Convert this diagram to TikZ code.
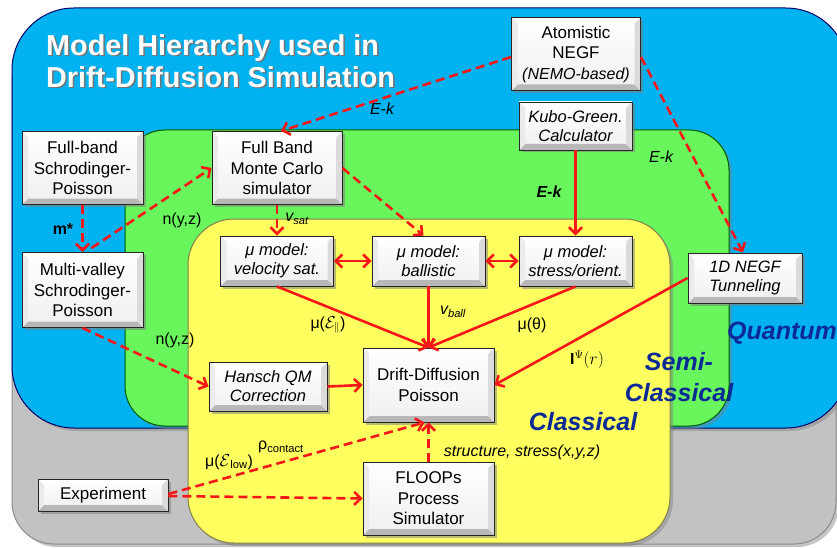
\documentclass[tikz,border=0pt]{standalone}
\usepackage{fontspec}
\setmainfont{Liberation Sans}
\usetikzlibrary{arrows.meta,shadows}

\definecolor{quantumblue}{RGB}{0,178,240}
\definecolor{semigreen}{RGB}{104,246,92}
\definecolor{classyellow}{RGB}{255,255,96}
\definecolor{panelgray}{RGB}{194,194,194}
\definecolor{linkred}{RGB}{246,24,24}
\definecolor{labelblue}{RGB}{12,42,150}

\newcommand\boxfont{\fontsize{17}{20.5}\selectfont}
\newcommand\itboxfont{\itshape\fontsize{16.5}{19}\selectfont}
\newcommand\lblfont{\fontsize{16}{18}\selectfont}

\tikzset{
  x=1pt, y=-1pt,
  region/.style={line width=1pt, rounded corners=#1,
    drop shadow={shadow xshift=3pt, shadow yshift=-3pt, opacity=0.45}},
  box/.style={draw=black!85, line width=0.9pt, align=center, inner sep=2pt,
    top color=white, bottom color=black!6,
    drop shadow={shadow xshift=2.5pt, shadow yshift=-2.5pt, opacity=0.55},
    path picture={
      \fill[black!28] (path picture bounding box.south west) -- (path picture bounding box.south east)
        -- ([shift={(-6pt,6pt)}]path picture bounding box.south east)
        -- ([shift={(6pt,6pt)}]path picture bounding box.south west) -- cycle;
      \fill[black!14] (path picture bounding box.north east) -- (path picture bounding box.south east)
        -- ([shift={(-6pt,6pt)}]path picture bounding box.south east)
        -- ([shift={(-6pt,-6pt)}]path picture bounding box.north east) -- cycle;
      \fill[black!8] (path picture bounding box.north west) -- (path picture bounding box.south west)
        -- ([shift={(6pt,6pt)}]path picture bounding box.south west)
        -- ([shift={(6pt,-6pt)}]path picture bounding box.north west) -- cycle;
    }},
  rmbox/.style={box, font=\boxfont},
  itbox/.style={box, font=\itboxfont},
  link/.style={draw=linkred, line width=2.6pt,
    -{Straight Barb[length=6.5pt,width=13pt]}},
  dlink/.style={link, dash pattern=on 9pt off 5pt},
  both/.style={link, {Straight Barb[length=6.5pt,width=13pt]}-{Straight Barb[length=6.5pt,width=13pt]}},
  lbl/.style={font=\lblfont, inner sep=0pt},
  itlbl/.style={font=\lblfont\itshape, inner sep=0pt},
  area/.style={text=labelblue, font=\bfseries\itshape\fontsize{25}{31}\selectfont, inner sep=0pt, align=center}
}

\begin{document}
\begin{tikzpicture}
\useasboundingbox (0,0) rectangle (837,548);
\fill[white] (0,0) rectangle (837,548);

% nested regions of the model hierarchy
\fill[panelgray, region=42, draw=black!45] (12,40) rectangle (836,544);
\fill[quantumblue, region=62, draw=blue!40!black] (12,8) rectangle (848,428);
\fill[semigreen, region=40, draw=green!35!black] (125,130) rectangle (729,426);
\fill[classyellow, region=46, draw=yellow!45!black] (188,219) rectangle (670,543);

% title
\node[anchor=west, align=left, text=black!55, inner sep=0pt,
  font=\bfseries\fontsize{28.8}{32}\selectfont] (titleshade) at (47.5,62.5)
  {Model Hierarchy used in\\Drift-Diffusion Simulation};
\node[anchor=west, align=left, text=white, inner sep=0pt,
  font=\bfseries\fontsize{28.8}{32}\selectfont] (title) at (46,61)
  {Model Hierarchy used in\\Drift-Diffusion Simulation};

% region names
\node[area, anchor=west] (quantum) at (727,333) {Quantum};
\node[area] (semi) at (679,377) {Semi-\\Classical};
\node[area] (classical) at (583,422) {Classical};

% model boxes
\node[rmbox, minimum width=129pt, minimum height=73pt] (atom) at (576,54)
  {Atomistic\\NEGF\\{\itshape\fontsize{16}{20}\selectfont(NEMO-based)}};
\node[itbox, minimum width=113pt, minimum height=48pt] (kubo) at (575.5,126) {Kubo-Green.\\Calculator};
\node[rmbox, minimum width=121pt, minimum height=73pt] (fbsp) at (82.5,168) {Full-band\\Schrodinger-\\Poisson};
\node[rmbox, minimum width=130pt, minimum height=73pt] (fbmc) at (277,168) {Full Band\\Monte Carlo\\simulator};
\node[rmbox, minimum width=121pt, minimum height=75pt] (mv) at (82.5,290) {Multi-valley\\Schrodinger-\\Poisson};
\node[itbox, minimum width=113pt, minimum height=50pt] (velsat) at (277,261) {μ model:\\velocity sat.};
\node[itbox, minimum width=113pt, minimum height=50pt] (ball) at (428.5,261) {μ model:\\ballistic};
\node[itbox, minimum width=113pt, minimum height=50pt] (stress) at (575.5,261) {μ model:\\stress/orient.};
\node[itbox, minimum width=114pt, minimum height=50pt] (negf) at (745,278) {1D NEGF\\Tunneling};
\node[itbox, minimum width=118pt, minimum height=49pt] (hansch) at (268,386.5) {Hansch QM\\Correction};
\node[rmbox, minimum width=131pt, minimum height=74pt] (dd) at (428.5,385) {Drift-Diffusion\\Poisson};
\node[rmbox, minimum width=131pt, minimum height=73pt] (floops) at (428.5,498.5) {FLOOPs\\Process\\Simulator};
\node[rmbox, minimum width=130pt, minimum height=32pt] (exp) at (103,495) {Experiment};

% connectors
\draw[dlink] (atom.west |- 0,57) -- ([xshift=4pt]fbmc.north);
\draw[dlink] (atom.east |- 0,57) -- ([xshift=-2pt]negf.north);
\draw[link] (kubo.south) -- (stress.north);
\draw[dlink] (fbsp.south) -- (mv.north);
\draw[dlink] ([xshift=9pt,yshift=4pt]mv.north) -- (fbmc.west);
\draw[dlink] (mv.south) -- (hansch.west);
\draw[dlink] (fbmc.south) -- (velsat.north);
\draw[dlink] (fbmc.east) -- ([xshift=-5pt]ball.north);
\draw[both] (velsat.east) -- (ball.west);
\draw[both] (ball.east) -- (stress.west);
\draw[link] (velsat.south) -- (dd.north);
\draw[link] (ball.south) -- (dd.north);
\draw[link] (stress.south) -- (dd.north);
\draw[link] (negf.west) -- (dd.east);
\draw[link] (hansch.east) -- (dd.west);
\draw[dlink] (floops.north) -- (dd.south);
\draw[dlink] ([yshift=1pt]exp.east) -- ([xshift=-4pt]dd.south);
\draw[dlink] ([yshift=-1pt]exp.east) -- (floops.west);

% connector labels
\node[itlbl] (ek1) at (382,109) {E-k};
\node[itlbl] (ek2) at (661,157) {E-k};
\node[itlbl, font=\lblfont\bfseries\itshape] (ek3) at (549,192) {E-k};
\node[lbl, font=\lblfont\bfseries] (mstar) at (63,229) {m*};
\node[lbl] (nyz1) at (182,220) {n(y,z)};
\node[lbl] (vsat) at (297,219) {\itshape v\textsubscript{sat}};
\node[lbl] (nyz2) at (175,340) {n(y,z)};
\node[lbl] (mupar) at (328,325) {μ($\mathcal{E}_{\parallel}$)};
\node[lbl] (vball) at (453,312) {\itshape v\textsubscript{ball}};
\node[lbl] (mutheta) at (532,325) {μ(θ)};
\node[lbl, font=\fontsize{16}{18}\selectfont] (ipsi) at (587,360) {$\mathbf{I}^{\Psi}(r)$};
\node[lbl] (rho) at (281,447) {ρ\textsubscript{contact}};
\node[lbl] (mulow) at (229,462) {μ($\mathcal{E}$\textsubscript{low})};
\node[itlbl] (struct) at (522,452) {structure, stress(x,y,z)};
\end{tikzpicture}
\end{document}
